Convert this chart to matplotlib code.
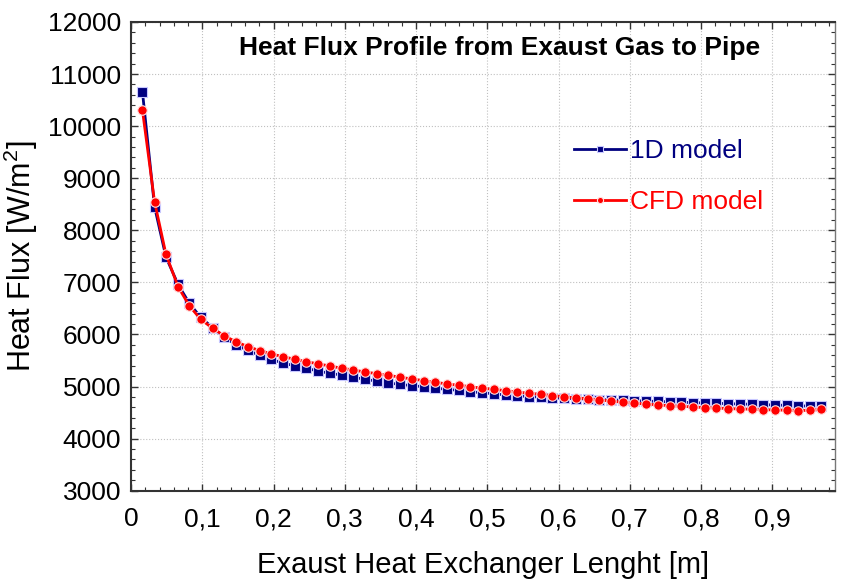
import numpy as np
import matplotlib
matplotlib.use('Agg')
import matplotlib.pyplot as plt
from matplotlib.ticker import MultipleLocator

plt.rcParams['font.family'] = ['Liberation Sans', 'DejaVu Sans']
plt.rcParams['mathtext.fontset'] = 'custom'
plt.rcParams['mathtext.rm'] = 'Liberation Sans'

# x positions of the nodes [m]
length = [0.016, 0.033, 0.049, 0.066, 0.082, 0.098, 0.115, 0.131, 0.148, 0.164,
          0.181, 0.197, 0.213, 0.230, 0.246, 0.263, 0.279, 0.296, 0.312, 0.328,
          0.345, 0.361, 0.378, 0.394, 0.411, 0.427, 0.443, 0.460, 0.476, 0.493,
          0.509, 0.526, 0.542, 0.558, 0.575, 0.591, 0.608, 0.624, 0.641, 0.657,
          0.673, 0.690, 0.706, 0.723, 0.739, 0.756, 0.772, 0.789, 0.805, 0.821,
          0.838, 0.854, 0.871, 0.887, 0.904, 0.920, 0.936, 0.953, 0.969]

flux_1d = [10662, 8454, 7488, 6960, 6595, 6326, 6125, 5948, 5798, 5693,
           5597, 5520, 5453, 5395, 5351, 5295, 5255, 5219, 5178, 5140,
           5103, 5069, 5040, 5017, 4996, 4967, 4948, 4925, 4900, 4881,
           4861, 4838, 4823, 4808, 4796, 4783, 4775, 4767, 4760, 4750,
           4744, 4737, 4729, 4721, 4714, 4706, 4698, 4692, 4685, 4679,
           4671, 4666, 4660, 4652, 4646, 4639, 4631, 4623, 4618]

flux_cfd = [10310, 8550, 7540, 6918, 6547, 6288, 6115, 5971, 5856, 5766,
            5689, 5626, 5574, 5524, 5478, 5434, 5395, 5351, 5318, 5280,
            5247, 5217, 5178, 5146, 5113, 5083, 5050, 5025, 4998, 4967,
            4948, 4921, 4896, 4871, 4852, 4825, 4806, 4781, 4767, 4742,
            4723, 4698, 4679, 4666, 4646, 4633, 4621, 4608, 4595, 4589,
            4575, 4570, 4564, 4556, 4550, 4545, 4537, 4545, 4564]

xticks = [0, 0.1, 0.2, 0.3, 0.4, 0.5, 0.6, 0.7, 0.8, 0.9]
xtick_labels = ['0', '0,1', '0,2', '0,3', '0,4', '0,5', '0,6', '0,7', '0,8', '0,9']
yticks = [3000, 4000, 5000, 6000, 7000, 8000, 9000, 10000, 11000, 12000]

fig = plt.figure(figsize=(8.41, 5.85), dpi=100)
ax = fig.add_axes([0.1558, 0.1612, 0.8371, 0.8012])

ax.plot(length, flux_1d, color='#000080', lw=2, marker='s', ms=7.2,
        mfc='#000080', mec='#c8c8ff', mew=0.8, label='1D model', zorder=3)
ax.plot(length, flux_cfd, color='#ff0000', lw=2, marker='o', ms=6.8,
        mfc='#ff0000', mec='#ffe0e0', mew=0.8, label='CFD model', zorder=4)

ax.set_xlim(0, 0.988)
ax.set_ylim(3000, 12000)
ax.set_xticks(xticks)
ax.set_xticklabels(xtick_labels)
ax.set_yticks(yticks)
ax.xaxis.set_minor_locator(MultipleLocator(0.02))
ax.yaxis.set_minor_locator(MultipleLocator(200))
ax.tick_params(which='both', direction='in', top=True, right=True,
               labelsize=19, color='#333333')
ax.tick_params(which='major', length=5, width=1)
ax.tick_params(which='minor', length=3, width=0.8)
ax.tick_params(axis='x', pad=12)
ax.tick_params(axis='y', pad=7)
ax.grid(True, which='major', linestyle=':', color='#c0c0c0', lw=0.8)

for side in ['left', 'bottom', 'top']:
    ax.spines[side].set_linewidth(1.5)
    ax.spines[side].set_color('#333333')
ax.spines['right'].set_linewidth(1.0)
ax.spines['right'].set_color('#777777')

ax.set_xlabel('Exaust Heat Exchanger Lenght [m]', fontsize=21, labelpad=14)
ax.set_ylabel('Heat Flux [W/m$^\\mathregular{2}$]', fontsize=22, labelpad=6)
ax.text(0.524, 0.9445, 'Heat Flux Profile from Exaust Gas to Pipe',
        transform=ax.transAxes, ha='center', va='center',
        fontsize=19, fontweight='bold')

leg = ax.legend(loc='center left', bbox_to_anchor=(0.61, 0.67), frameon=False,
                fontsize=19, handlelength=2.0, handletextpad=0.15,
                labelspacing=1.0, markerscale=0.65, borderpad=0)
for txt, c in zip(leg.get_texts(), ['#000080', '#ff0000']):
    txt.set_color(c)

plt.savefig('out.png', dpi=100)
